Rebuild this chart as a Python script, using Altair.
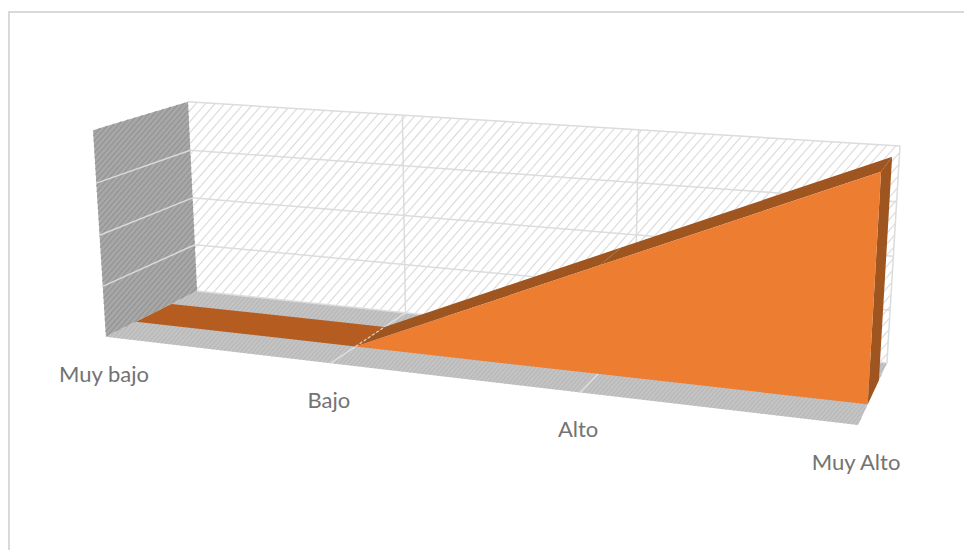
import altair as alt
import numpy as np
import pandas as pd

# ---- chart values
categories = ["Muy bajo", "Bajo", "Alto", "Muy Alto"]
values = [0, 0, 50, 100]
axis_max = 100
grid_levels = [25, 50, 75, 100]

# ---- 3D view: where the box corners (category position, depth, height) land on the page
box = [(0, 0, 0), (1, 0, 0), (0, 1, 0), (1, 1, 0), (0, 0, 1), (0, 1, 1), (1, 1, 1)]
page = [(106, 337), (858, 425), (197, 291), (887, 363), (93, 130), (188, 102), (900, 146)]
depth_front, depth_back = 0.31, 0.70

A = []
for (a, b, c), (px, py) in zip(box, page):
    A.append([a, b, c, 1, 0, 0, 0, 0, -px * a, -px * b, -px * c, -px])
    A.append([0, 0, 0, 0, a, b, c, 1, -py * a, -py * b, -py * c, -py])
P = np.linalg.svd(np.array(A, float))[2][-1].reshape(3, 4)


def proj(u, v, z):
    h = P @ np.array([u, v, z, 1.0])
    return (float(h[0] / h[2]), float(h[1] / h[2]))


W, H = 956, 542
xs_scale = alt.Scale(domain=[8, 8 + W], range=[0, W], nice=False, zero=False)
ys_scale = alt.Scale(domain=[8, 8 + H], range=[0, H], nice=False, zero=False)
X = alt.X("x:Q", scale=xs_scale, axis=None)
Y = alt.Y("y:Q", scale=ys_scale, axis=None)


def face(poly, color):
    """A convex polygon as an area mark."""
    pts = list(poly)
    xs = sorted(set(round(p[0], 2) for p in pts))
    rows = []
    for x in xs:
        ys = []
        for i in range(len(pts)):
            (x0, y0), (x1, y1) = pts[i], pts[(i + 1) % len(pts)]
            lo, hi = min(x0, x1), max(x0, x1)
            if lo - 0.01 <= x <= hi + 0.01:
                if abs(x1 - x0) < 1e-6:
                    ys += [y0, y1]
                else:
                    ys.append(y0 + (y1 - y0) * min(1, max(0, (x - x0) / (x1 - x0))))
        rows.append({"x": x, "y": min(ys), "y2": max(ys)})
    return alt.Chart(pd.DataFrame(rows)).mark_area(color=color, orient="vertical", fillOpacity=1).encode(
        x=X, y=Y, y2=alt.Y2("y2:Q")
    )


def segs(rows, color, width, dash=None):
    kw = {"color": color, "strokeWidth": width}
    if dash:
        kw["strokeDash"] = dash
    return alt.Chart(pd.DataFrame(rows)).mark_rule(**kw).encode(x=X, y=Y, x2="x2:Q", y2="y2:Q")


def seg(a, b):
    return {"x": float(a[0]), "y": float(a[1]), "x2": float(b[0]), "y2": float(b[1])}


def hatch(poly, spacing, slope=-1.15):
    """Diagonal lines clipped to a convex polygon."""
    n = len(poly)
    area = sum(poly[i][0] * poly[(i + 1) % n][1] - poly[(i + 1) % n][0] * poly[i][1] for i in range(n))
    cs = [p[1] - slope * p[0] for p in poly]
    rows = []
    for c in np.arange(min(cs), max(cs), spacing):
        p0 = np.array([0.0, c])
        d = np.array([1000.0, slope * 1000.0])
        t0, t1 = 0.0, 1.0
        ok = True
        for i in range(n):
            a, b = np.array(poly[i]), np.array(poly[(i + 1) % n])
            e = b - a
            inward = np.array([-e[1], e[0]]) if area > 0 else np.array([e[1], -e[0]])
            den = inward @ d
            num = inward @ (a - p0)
            if abs(den) < 1e-9:
                if num > 0:
                    ok = False
                continue
            t = num / den
            if den > 0:
                t0 = max(t0, t)
            else:
                t1 = min(t1, t)
        if ok and t1 > t0:
            rows.append(seg(tuple(p0 + d * t0), tuple(p0 + d * t1)))
    return rows


z = [v / axis_max for v in values]
u = [i / (len(categories) - 1) for i in range(len(categories))]

wall_back = [proj(0, 1, 0), proj(1, 1, 0), proj(1, 1, 1), proj(0, 1, 1)]
wall_left = [proj(0, 0, 0), proj(0, 1, 0), proj(0, 1, 1), proj(0, 0, 1)]
floor = [proj(0, 0, 0), proj(1, 0, 0), proj(1, 1, 0), proj(0, 1, 0)]

layers = [
    alt.Chart(pd.DataFrame({"k": [0]})).mark_rule(color="#d9d9d9", strokeWidth=2).encode(
        x=alt.value(0), x2=alt.value(W), y=alt.value(4)
    ),
    alt.Chart(pd.DataFrame({"k": [0]})).mark_rule(color="#d9d9d9", strokeWidth=2).encode(
        x=alt.value(1), y=alt.value(4), y2=alt.value(H)
    ),
    face(wall_back, "#ffffff"),
    segs(hatch(wall_back, 11), "#dddddd", 1.2),
    face(wall_left, "#a8a8a8"),
    segs(hatch(wall_left, 6), "#959595", 1.3),
    face(floor, "#c3c3c3"),
    segs(hatch(floor, 5), "#b4b4b4", 1),
]

# gridlines
grid = []
for g in grid_levels:
    t = g / axis_max
    grid.append(seg(proj(0, 1, t), proj(1, 1, t)))
for a in u[1:-1]:
    grid.append(seg(proj(a, 1, 0), proj(a, 1, 1)))
grid.append(seg(proj(1, 1, 0), proj(1, 1, 1)))
grid.append(seg(proj(0, 1, 0), proj(1, 1, 0)))
layers.append(segs(grid, "#dcdcdc", 1.5))
layers.append(segs([seg(proj(0, 0, g / axis_max), proj(0, 1, g / axis_max)) for g in grid_levels[:-1]], "#d9d9d9", 1.5))
layers.append(segs([seg(proj(a, 0, 0), proj(a, 1, 0)) for a in u[1:-1]], "#dedede", 1.5))

# area surfaces
for i in range(len(u) - 1):
    quad = [proj(u[i], depth_front, z[i]), proj(u[i + 1], depth_front, z[i + 1]),
            proj(u[i + 1], depth_back, z[i + 1]), proj(u[i], depth_back, z[i])]
    flat = z[i] == z[i + 1]
    layers.append(face(quad, "#b55d20" if flat else "#9e5520"))
side = [proj(1, depth_front, 0), proj(1, depth_back, 0), proj(1, depth_back, z[-1]), proj(1, depth_front, z[-1])]
layers.append(face(side, "#9e5520"))
first = next(i for i, b in enumerate(z) if b > 0) - 1
front = [proj(a, depth_front, b) for a, b in zip(u[first:], z[first:])] + [proj(1, depth_front, 0)]
layers.append(face(front, "#ed7d31"))
layers.append(segs([seg(proj(u[first], depth_front, 0), proj(u[first], depth_back, 0))], "#e6d2c2", 1.2, [3, 2]))

# category labels
labels = pd.DataFrame([
    {"x": proj(a, 0, 0)[0] - 2, "y": proj(a, 0, 0)[1] + 38, "label": c} for a, c in zip(u, categories)
])
layers.append(alt.Chart(labels).mark_text(font="Lato", fontSize=22, color="#737373", align="center", baseline="middle").encode(
    x=X, y=Y, text="label:N"))

chart = alt.layer(*layers).properties(
    width=W, height=H, padding=0, autosize=alt.AutoSizeParams(type="none"), background="white"
).configure_view(stroke=None)
chart.save("out.html", embed_options={"renderer": "svg", "actions": False})
